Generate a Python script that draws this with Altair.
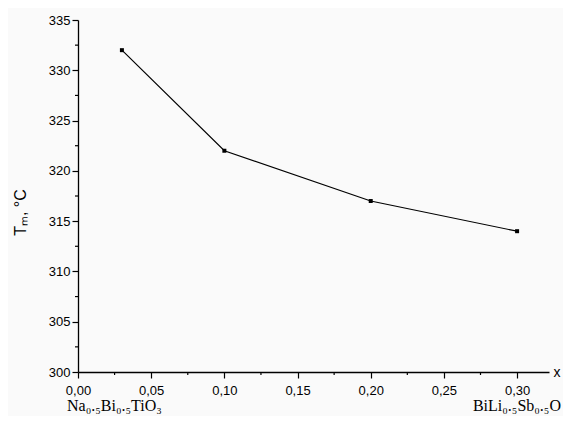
import altair as alt
import pandas as pd

# data
x_vals = [0.03, 0.10, 0.20, 0.30]
tm_vals = [332, 322, 317, 314]

x_major_ticks = [0.0, 0.05, 0.10, 0.15, 0.20, 0.25, 0.30]
x_minor_ticks = [0.025, 0.075, 0.125, 0.175, 0.225, 0.275]
y_major_ticks = [300, 305, 310, 315, 320, 325, 330, 335]
y_minor_ticks = [302.5, 307.5, 312.5, 317.5, 322.5, 327.5, 332.5]

left_label = "Na₀.₅Bi₀.₅TiO₃"
right_label = "BiLi₀.₅Sb₀.₅O"

df = pd.DataFrame({"x": x_vals, "tm": tm_vals})

W, H = 471, 352

xscale = alt.Scale(domain=[0, 0.3218], nice=False, zero=False)
yscale = alt.Scale(domain=[300, 335], nice=False, zero=False)

xaxis = alt.Axis(
    values=x_major_ticks,
    labelExpr="replace(format(datum.value, '.2f'), '.', ',')",
    tickSize=6, tickColor="black", tickWidth=1.2,
    domainColor="black", domainWidth=1.3,
    labelFont="Liberation Sans", labelFontSize=13, labelColor="black",
    labelPadding=6, labelOverlap=False, labelFlush=False,
    grid=False,
    title="x", titleFont="Liberation Sans", titleFontSize=14,
    titleFontWeight="normal", titleColor="black",
    titleAngle=0, titleX=W + 4, titleY=0, titleAlign="left",
    titleBaseline="middle",
)

yaxis = alt.Axis(
    values=y_major_ticks,
    labelExpr="format(datum.value, 'd')",
    tickSize=6, tickColor="black", tickWidth=1.2,
    domainColor="black", domainWidth=1.3,
    labelFont="Liberation Sans", labelFontSize=13, labelColor="black",
    labelPadding=2, labelOverlap=False, labelFlush=False,
    grid=False,
    title="Tₘ, °C", titleFont="Liberation Sans", titleFontSize=16,
    titleFontWeight="normal", titleColor="black",
    titleAngle=-90, titleX=-50, titleY=192, titleAlign="center",
    titleBaseline="bottom",
)

base = alt.Chart(df)

line = base.mark_line(color="black", strokeWidth=1.2).encode(
    x=alt.X("x:Q", scale=xscale, axis=xaxis),
    y=alt.Y("tm:Q", scale=yscale, axis=yaxis),
)
pts = base.mark_square(color="black", size=16, opacity=1).encode(
    x=alt.X("x:Q", scale=xscale),
    y=alt.Y("tm:Q", scale=yscale),
)

xminor = alt.Chart(pd.DataFrame({"v": x_minor_ticks})).mark_rule(
    color="black", strokeWidth=1.2
).encode(
    x=alt.X("v:Q", scale=xscale),
    y=alt.value(H), y2=alt.value(H + 3),
)
yminor = alt.Chart(pd.DataFrame({"v": y_minor_ticks})).mark_rule(
    color="black", strokeWidth=1.2
).encode(
    y=alt.Y("v:Q", scale=yscale),
    x=alt.value(-3), x2=alt.value(0),
)

left_txt = alt.Chart(pd.DataFrame({"t": [left_label]})).mark_text(
    font="Liberation Serif", fontSize=16, color="black", align="left",
    baseline="alphabetic",
).encode(text="t:N", x=alt.value(-11), y=alt.value(391))

right_txt = alt.Chart(pd.DataFrame({"t": [right_label]})).mark_text(
    font="Liberation Serif", fontSize=16, color="black", align="right",
    baseline="alphabetic",
).encode(text="t:N", x=alt.value(483), y=alt.value(391))

chart = alt.layer(line, pts, xminor, yminor, left_txt, right_txt).properties(
    width=W, height=H,
    autosize=alt.AutoSizeParams(type="none"),
    padding={"left": 70, "top": 12, "right": 14, "bottom": 44},
    background="#fafafa",
).configure_view(stroke=None)

chart.save("out.html", embed_options={"renderer": "svg", "actions": False})
